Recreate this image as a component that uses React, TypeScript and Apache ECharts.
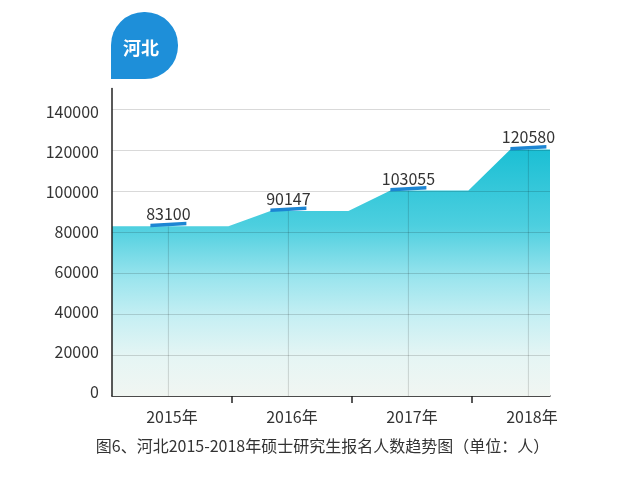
import React, { useEffect, useRef } from "react";
import * as echarts from "echarts";

// ---- data ----
const years = ["2015年", "2016年", "2017年", "2018年"];
const applicants = [83100, 90147, 103055, 120580];
// plateau heights of the decorative area
const areaTop = [82800, 90300, 100200, 120300];
const yTicks = [0, 20000, 40000, 60000, 80000, 100000, 120000, 140000];

const FONT = "'Noto Sans CJK SC', 'Noto Sans', sans-serif";
const X_MAX = 3.65; // axis length in category-band units

export default function App() {
  const ref = useRef<HTMLDivElement>(null);

  useEffect(() => {
    if (!ref.current) return;
    const chart = echarts.init(ref.current, undefined, { renderer: "svg" });

    const pointPos = years.map((_, i) => i + 0.47);
    const areaPts: number[][] = [];
    areaTop.forEach((v, i) => {
      const c = pointPos[i];
      areaPts.push([i === 0 ? 0 : c - 0.15, v]);
      areaPts.push([Math.min(X_MAX, c + 0.5), v]);
    });
    const markerData = applicants.map((v, i) => [pointPos[i], areaTop[i], v]);

    chart.setOption({
      animation: false,
      grid: [
        { left: 112, top: 88.5, right: 68, bottom: 96 },
        // label-only grid for the y tick labels
        { left: 112, top: 110.7, right: 68, bottom: 101.3 },
      ],
      xAxis: [
        {
          type: "value",
          gridIndex: 0,
          min: 0,
          max: X_MAX,
          axisLine: { show: true, lineStyle: { color: "#222", width: 1.5 } },
          axisTick: {
            show: true,
            customValues: [1, 2, 3],
            length: 7,
            lineStyle: { color: "#222", width: 1.5 },
          },
          axisLabel: {
            customValues: years.map((_, i) => i + 0.5),
            formatter: (v: number) => years[Math.floor(v)],
            fontSize: 16,
            color: "#333",
            fontFamily: FONT,
            margin: 12,
          },
          splitLine: { show: false },
        },
        {
          type: "value",
          gridIndex: 1,
          show: false,
          min: 0,
          max: 1,
        },
      ],
      yAxis: [
        {
          type: "value",
          gridIndex: 0,
          min: yTicks[0],
          max: 150000,
          interval: 20000,
          z: 5,
          axisLine: { show: true, lineStyle: { color: "#222", width: 1.5 } },
          axisTick: { show: false },
          axisLabel: { show: false },
          splitLine: {
            show: true,
            showMaxLine: false,
            lineStyle: { color: "rgba(0,0,0,0.15)", width: 1 },
          },
        },
        {
          type: "value",
          gridIndex: 1,
          min: yTicks[0],
          max: yTicks[yTicks.length - 1],
          interval: 20000,
          axisLine: { show: false },
          axisTick: { show: false },
          splitLine: { show: false },
          axisLabel: {
            formatter: (v: number) => String(v),
            fontSize: 16,
            color: "#333",
            fontFamily: FONT,
            margin: 13,
          },
        },
      ],
      graphic: [
        {
          type: "rect",
          shape: { x: 111, y: 12, width: 67, height: 67, r: [33, 33, 33, 0] },
          style: { fill: "#1e8fd9" },
        },
        {
          type: "text",
          style: {
            text: "河北",
            x: 141,
            y: 47,
            align: "center",
            verticalAlign: "middle",
            fontSize: 18,
            fontWeight: "bold",
            fill: "#fff",
            fontFamily: FONT,
          },
        },
        {
          type: "text",
          style: {
            text: "图6、河北2015-2018年硕士研究生报名人数趋势图（单位：人）",
            x: 322.5,
            y: 445,
            align: "center",
            verticalAlign: "middle",
            fontSize: 16,
            fill: "#333",
            fontFamily: FONT,
          },
        },
      ],
      series: [
        {
          type: "line",
          xAxisIndex: 0,
          yAxisIndex: 0,
          data: areaPts,
          symbol: "none",
          z: 1,
          lineStyle: { width: 0 },
          areaStyle: {
            opacity: 1,
            color: {
              type: "linear",
              x: 0,
              y: 0,
              x2: 0,
              y2: 1,
              colorStops: [
                { offset: 0, color: "#1bbfd4" },
                { offset: 0.31, color: "#4dcfdf" },
                { offset: 0.53, color: "#9de5ee" },
                { offset: 0.68, color: "#c6eff3" },
                { offset: 0.84, color: "#e5f5f4" },
                { offset: 1, color: "#f1f6f2" },
              ],
            },
          },
        },
        {
          type: "custom",
          xAxisIndex: 0,
          yAxisIndex: 0,
          z: 10,
          data: markerData,
          renderItem: (params: any, api: any) => {
            const x = api.value(0);
            const top = api.value(1);
            const val = api.value(2);
            const p = api.coord([x, top]);
            const b = api.coord([x, 0]);
            return {
              type: "group",
              children: [
                {
                  type: "line",
                  shape: { x1: p[0], y1: p[1], x2: b[0], y2: b[1] },
                  style: { stroke: "rgba(0,0,0,0.15)", lineWidth: 1 },
                },
                {
                  type: "polygon",
                  shape: {
                    points: [
                      [p[0] - 18, p[1] + 1],
                      [p[0] + 18, p[1] - 1],
                      [p[0] + 18, p[1] - 4.5],
                      [p[0] - 18, p[1] - 2.5],
                    ],
                  },
                  style: { fill: "#1c86d3" },
                },
                {
                  type: "text",
                  style: {
                    text: String(val),
                    x: p[0],
                    y: p[1] - 5,
                    align: "center",
                    verticalAlign: "bottom",
                    fontSize: 16,
                    fill: "#333",
                    fontFamily: FONT,
                  },
                },
              ],
            };
          },
        },
      ],
    });

    return () => chart.dispose();
  }, []);

  return (
    <div
      ref={ref}
      style={{ position: "fixed", left: 0, top: 0, width: 618, height: 492 }}
    />
  );
}
